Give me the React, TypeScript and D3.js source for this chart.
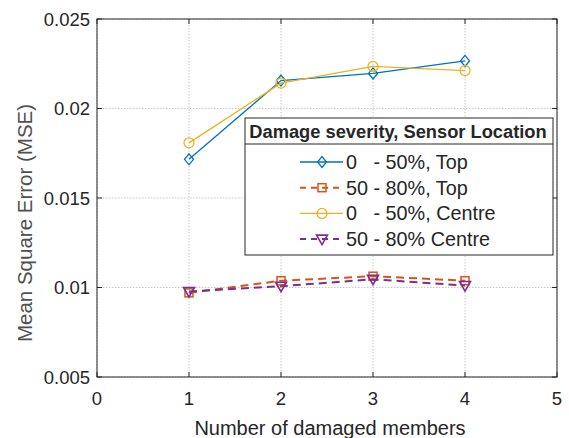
import { useEffect, useRef } from "react";
import * as d3 from "d3";

const WIDTH = 569;
const HEIGHT = 438;
const MARGIN = { top: 19, right: 12, bottom: 61, left: 97 };

const members = [1, 2, 3, 4];
const xTicks = [0, 1, 2, 3, 4, 5];
const yTicks = [0.005, 0.01, 0.015, 0.02, 0.025];

const topLow = [0.01716, 0.02156, 0.02196, 0.02266];
const topHigh = [0.0097, 0.01038, 0.01063, 0.01038];
const centreLow = [0.01808, 0.02142, 0.02235, 0.02212];
const centreHigh = [0.00978, 0.01007, 0.01046, 0.01011];

const seriesNames = [
  "0   - 50%, Top",
  "50 - 80%, Top",
  "0   - 50%, Centre",
  "50 - 80% Centre",
];

type Series = {
  name: string;
  values: number[];
  color: string;
  dashed: boolean;
  marker: "diamond" | "square" | "circle" | "triangle";
};

const series: Series[] = [
  { name: seriesNames[0], values: topLow, color: "#0072BD", dashed: false, marker: "diamond" },
  { name: seriesNames[1], values: topHigh, color: "#D95319", dashed: true, marker: "square" },
  { name: seriesNames[2], values: centreLow, color: "#EDB120", dashed: false, marker: "circle" },
  { name: seriesNames[3], values: centreHigh, color: "#7E2F8E", dashed: true, marker: "triangle" },
];

const FONT = "'Liberation Sans', Arial, sans-serif";

function drawMarker(g: any, kind: Series["marker"], cx: number, cy: number, color: string) {
  if (kind === "circle") {
    g.append("circle")
      .attr("cx", cx)
      .attr("cy", cy)
      .attr("r", 5)
      .attr("fill", "none")
      .attr("stroke", color)
      .attr("stroke-width", 1.3);
  } else if (kind === "square") {
    g.append("rect")
      .attr("x", cx - 4)
      .attr("y", cy - 4)
      .attr("width", 8)
      .attr("height", 8)
      .attr("fill", "none")
      .attr("stroke", color)
      .attr("stroke-width", 1.5);
  } else if (kind === "diamond") {
    g.append("path")
      .attr("d", `M${cx},${cy - 5.5}L${cx + 4.5},${cy}L${cx},${cy + 5.5}L${cx - 4.5},${cy}Z`)
      .attr("fill", "none")
      .attr("stroke", color)
      .attr("stroke-width", 1.3);
  } else {
    g.append("path")
      .attr("d", `M${cx - 5.5},${cy - 4}L${cx + 5.5},${cy - 4}L${cx},${cy + 5.5}Z`)
      .attr("fill", "none")
      .attr("stroke", color)
      .attr("stroke-width", 1.6);
  }
}

export default function App() {
  const svgRef = useRef<SVGSVGElement | null>(null);

  useEffect(() => {
    document.body.style.margin = "0";
    if (!svgRef.current) return;
    const svg = d3.select(svgRef.current);
    svg.selectAll("*").remove();

    const innerWidth = WIDTH - MARGIN.left - MARGIN.right;
    const innerHeight = HEIGHT - MARGIN.top - MARGIN.bottom;

    const x = d3.scaleLinear().domain([0, 5]).range([0, innerWidth]);
    const y = d3.scaleLinear().domain([0.005, 0.025]).range([innerHeight, 0]);

    svg.append("rect").attr("width", WIDTH).attr("height", HEIGHT).attr("fill", "#fff");

    const g = svg.append("g").attr("transform", `translate(${MARGIN.left},${MARGIN.top})`);

    // Gridlines
    g.selectAll("line.vgrid")
      .data(xTicks)
      .enter()
      .append("line")
      .attr("x1", (d: number) => x(d))
      .attr("x2", (d: number) => x(d))
      .attr("y1", 0)
      .attr("y2", innerHeight)
      .attr("stroke", "#c8c8c8")
      .attr("stroke-dasharray", "1.5,1.5")
      .attr("stroke-width", 1);
    g.selectAll("line.hgrid")
      .data(yTicks)
      .enter()
      .append("line")
      .attr("x1", 0)
      .attr("x2", innerWidth)
      .attr("y1", (d: number) => y(d))
      .attr("y2", (d: number) => y(d))
      .attr("stroke", "#c8c8c8")
      .attr("stroke-dasharray", "1.5,1.5")
      .attr("stroke-width", 1);

    // Box and ticks
    g.append("rect")
      .attr("width", innerWidth)
      .attr("height", innerHeight)
      .attr("fill", "none")
      .attr("stroke", "#262626")
      .attr("stroke-width", 1);

    xTicks.forEach((t) => {
      g.append("line").attr("x1", x(t)).attr("x2", x(t)).attr("y1", innerHeight).attr("y2", innerHeight - 5).attr("stroke", "#262626");
      g.append("line").attr("x1", x(t)).attr("x2", x(t)).attr("y1", 0).attr("y2", 5).attr("stroke", "#262626");
    });
    yTicks.forEach((t) => {
      g.append("line").attr("x1", 0).attr("x2", 5).attr("y1", y(t)).attr("y2", y(t)).attr("stroke", "#262626");
      g.append("line").attr("x1", innerWidth).attr("x2", innerWidth - 5).attr("y1", y(t)).attr("y2", y(t)).attr("stroke", "#262626");
    });

    // Tick labels
    g.selectAll("text.xt")
      .data(xTicks)
      .enter()
      .append("text")
      .attr("x", (d: number) => x(d))
      .attr("y", innerHeight + 28)
      .attr("text-anchor", "middle")
      .attr("fill", "#262626")
      .style("font-family", FONT)
      .style("font-size", "18.5px")
      .text((d: number) => `${d}`);
    g.selectAll("text.yt")
      .data(yTicks)
      .enter()
      .append("text")
      .attr("x", -7)
      .attr("y", (d: number) => y(d) + 6.5)
      .attr("text-anchor", "end")
      .attr("fill", "#262626")
      .style("font-family", FONT)
      .style("font-size", "18.5px")
      .text((d: number) => `${d}`);

    // Axis labels
    g.append("text")
      .attr("x", innerWidth / 2 + 3)
      .attr("y", innerHeight + 58)
      .attr("text-anchor", "middle")
      .attr("fill", "#262626")
      .style("font-family", FONT)
      .style("font-size", "20px")
      .text("Number of damaged members");
    svg.append("text")
      .attr("transform", `translate(32,223) rotate(-90)`)
      .attr("text-anchor", "middle")
      .attr("fill", "#505050")
      .style("font-family", FONT)
      .style("font-size", "20.5px")
      .text("Mean Square Error (MSE)");

    // Series
    series.forEach((s) => {
      const line = d3
        .line<number>()
        .x((_d: number, i: number) => x(members[i]))
        .y((d: number) => y(d));
      g.append("path")
        .datum(s.values)
        .attr("d", line)
        .attr("fill", "none")
        .attr("stroke", s.color)
        .attr("stroke-width", s.dashed ? 2 : 1.3)
        .attr("stroke-dasharray", s.dashed ? "8,5" : null);
      s.values.forEach((v, i) => drawMarker(g, s.marker, x(members[i]), y(v), s.color));
    });

    // Legend
    const lx = 245;
    const ly = 118;
    const lw = 308;
    const lh = 137;
    const legend = svg.append("g");
    legend
      .append("rect")
      .attr("x", lx)
      .attr("y", ly)
      .attr("width", lw)
      .attr("height", lh)
      .attr("fill", "#fff")
      .attr("stroke", "#262626")
      .attr("stroke-width", 1);
    legend
      .append("line")
      .attr("x1", lx)
      .attr("x2", lx + lw)
      .attr("y1", ly + 26)
      .attr("y2", ly + 26)
      .attr("stroke", "#262626");
    legend
      .append("text")
      .attr("x", lx + lw / 2 - 1)
      .attr("y", ly + 20)
      .attr("text-anchor", "middle")
      .attr("fill", "#262626")
      .style("font-family", FONT)
      .style("font-size", "18.3px")
      .style("font-weight", "bold")
      .text("Damage severity, Sensor Location");

    series.forEach((s, i) => {
      const cy = 162 + i * 25.7;
      legend
        .append("line")
        .attr("x1", 300)
        .attr("x2", 343)
        .attr("y1", cy)
        .attr("y2", cy)
        .attr("stroke", s.color)
        .attr("stroke-width", s.dashed ? 2 : 1.3)
        .attr("stroke-dasharray", s.dashed ? "6,5" : null);
      drawMarker(legend, s.marker, 322, cy, s.color);
      legend
        .append("text")
        .attr("x", 346)
        .attr("y", cy + 7)
        .attr("fill", "#262626")
        .attr("xml:space", "preserve")
        .style("white-space", "pre")
        .style("font-family", FONT)
        .style("font-size", "19.8px")
        .text(s.name);
    });
  }, []);

  return <svg ref={svgRef} width={WIDTH} height={HEIGHT} style={{ display: "block" }} />;
}
